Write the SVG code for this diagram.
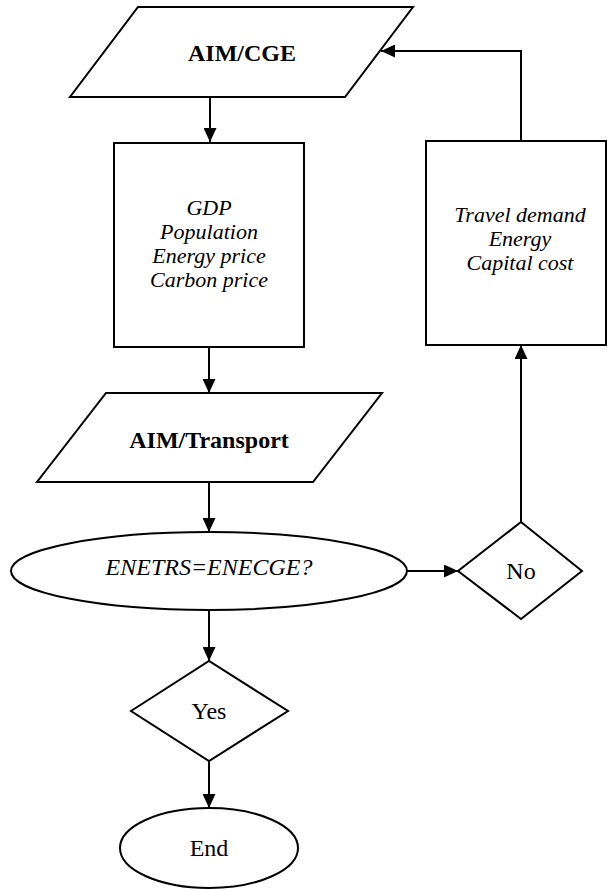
<svg xmlns="http://www.w3.org/2000/svg" width="608" height="890" viewBox="0 0 608 890">
<style>
.s{fill:#fff;stroke:#000;stroke-width:2}
.c{fill:none;stroke:#000;stroke-width:2;marker-end:url(#ah)}
text{font-family:'Liberation Serif',serif;font-size:24px;text-anchor:middle;fill:#000}
.b{font-weight:bold}
.i{font-style:italic}
.m{font-style:italic;font-size:22px}
</style>
<defs>
<marker id="ah" markerUnits="userSpaceOnUse" markerWidth="14" markerHeight="13" refX="14" refY="6.5" orient="auto">
<path d="M0,0 L14,6.5 L0,13 z" fill="#000"/>
</marker>
</defs>
<g id="connectors">
<line class="c" x1="210" y1="97" x2="210" y2="142"/>
<line class="c" x1="209" y1="347" x2="209" y2="393"/>
<line class="c" x1="209" y1="482" x2="209" y2="532"/>
<line class="c" x1="407" y1="571" x2="458" y2="571"/>
<line class="c" x1="521" y1="522" x2="521" y2="345"/>
<polyline class="c" points="521,141 521,51 381,51"/>
<line class="c" x1="209" y1="610" x2="209" y2="661"/>
<line class="c" x1="209" y1="761" x2="209" y2="808"/>
</g>
<g id="aim-cge">
<polygon class="s" points="138,7 413,7 345,97 70,97"/>
<text class="b" x="242" y="61">AIM/CGE</text>
</g>
<g id="inputs">
<rect class="s" x="114" y="143" width="190" height="204"/>
<text class="m" x="209" y="215">GDP</text>
<text class="m" x="209" y="239">Population</text>
<text class="m" x="209" y="263">Energy price</text>
<text class="m" x="209" y="287">Carbon price</text>
</g>
<g id="aim-transport">
<polygon class="s" points="106,393 382,393 313,482 37,482"/>
<text class="b" x="209" y="448">AIM/Transport</text>
</g>
<g id="check">
<ellipse class="s" cx="209" cy="571" rx="198" ry="39"/>
<text class="i" x="209" y="575">ENETRS=ENECGE?</text>
</g>
<g id="no">
<polygon class="s" points="458,571 521,522 582,571 521,619"/>
<text x="521" y="579">No</text>
</g>
<g id="outputs">
<rect class="s" x="426" y="141" width="180" height="204"/>
<text class="m" x="520" y="222">Travel demand</text>
<text class="m" x="520" y="246">Energy</text>
<text class="m" x="520" y="270">Capital cost</text>
</g>
<g id="yes">
<polygon class="s" points="131,711 209,661 288,711 209,761"/>
<text x="209" y="719">Yes</text>
</g>
<g id="end">
<ellipse class="s" cx="209" cy="848" rx="89" ry="40"/>
<text x="209" y="856">End</text>
</g>
</svg>
